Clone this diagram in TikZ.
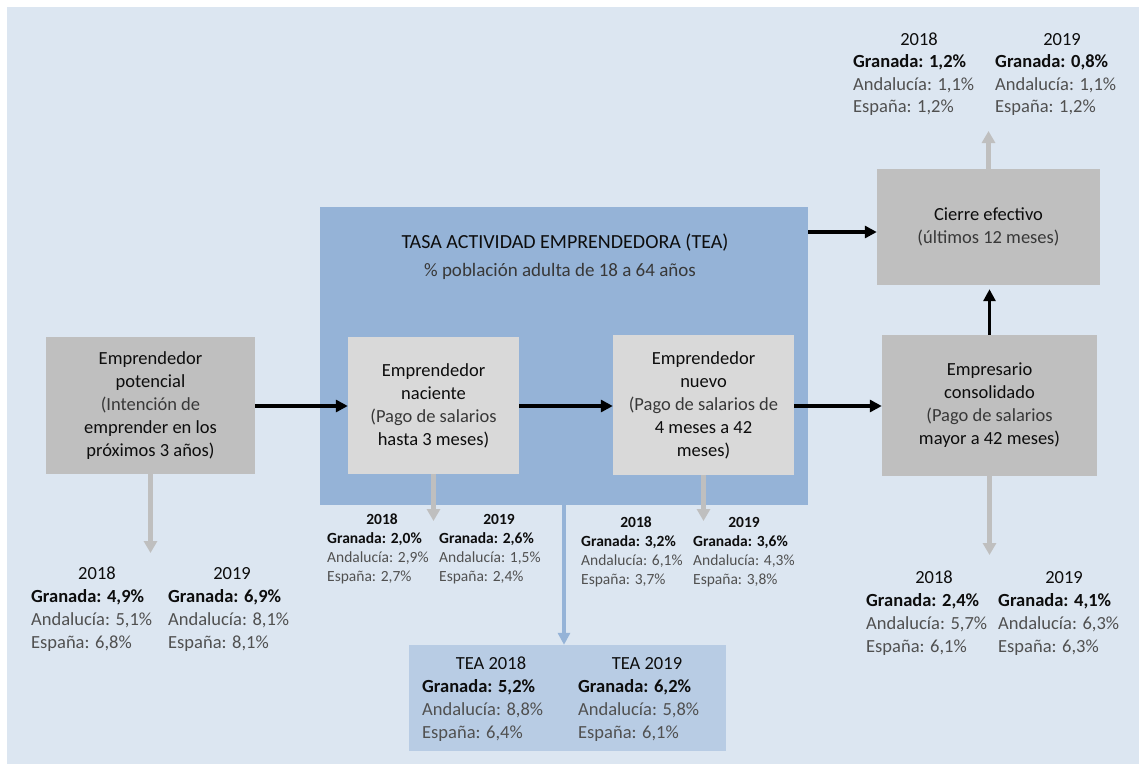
\documentclass[tikz,border=0pt]{standalone}
\usepackage{fontspec}
\setmainfont{Carlito}
\usetikzlibrary{arrows.meta}
\definecolor{bgblue}{HTML}{DCE6F1}
\definecolor{teablue}{HTML}{95B3D7}
\definecolor{resblue}{HTML}{B8CCE4}
\definecolor{boxgray}{HTML}{BFBFBF}
\definecolor{innergray}{HTML}{D9D9D9}
\definecolor{txtgray}{HTML}{505050}
\definecolor{partxt}{HTML}{383838}
\definecolor{txtblack}{HTML}{0D0D0D}

\newcommand\bigsz{\fontsize{18.5}{23}\selectfont}
\newcommand\smlsz{\fontsize{15.5}{19}\selectfont}
\newcommand\dsz{\bigsz}
\newcommand\dyrw{}

% #1 prefix, #2 year centre x, #3 year baseline, #4 year text, #5 left x, #6 step, #7 Granada, #8 Andalucia, #9 Espana
\newcommand\dcol[9]{%
  \node[dyear] (#1yr) at (#2,#3) {#4};
  \node[dgran] (#1g) at (#5,#3+#6) {#7};
  \node[dreg] (#1a) at (#5,#3+2*#6) {#8};
  \node[dreg] (#1e) at (#5,#3+3*#6) {#9};
}

\begin{document}
\begin{tikzpicture}[x=1pt,y=-1pt,
  gbox/.style={fill=boxgray, draw=none, inner sep=0pt, align=center, text=txtblack, font=\bigsz},
  ibox/.style={fill=innergray, draw=none, inner sep=0pt, align=center, text=txtblack, font=\bigsz},
  dyear/.style={inner sep=0pt, anchor=base, font=\dsz\dyrw, text=txtblack},
  dgran/.style={inner sep=0pt, anchor=base west, font=\dsz\bfseries, text=txtblack},
  dreg/.style={inner sep=0pt, anchor=base west, font=\dsz, text=txtgray},
  blkarrow/.style={draw=black, line width=3.6pt, -{Triangle[length=12pt,width=12pt]}},
  garrow/.style={draw=boxgray, line width=4.2pt, -{Triangle[length=12pt,width=13pt]}},
  barrow/.style={draw=teablue, line width=4pt, -{Triangle[length=12pt,width=12pt]}}]

\useasboundingbox (0,0) rectangle (1139,764);
\fill[white] (0,0) rectangle (1139,764);
\fill[bgblue] (7,7) rectangle (1139,764);

% TEA frame
\node[fill=teablue, draw=none, inner sep=0pt, minimum width=488pt, minimum height=298pt] (tea) at (564,356) {};
\node[inner sep=0pt, font=\fontsize{20}{24}\selectfont, text=txtblack] (teatitle) at (565,243) {TASA ACTIVIDAD EMPRENDEDORA (TEA)};
\node[inner sep=0pt, font=\fontsize{19}{23}\selectfont, text=partxt] (teasub) at (560,271) {\% población adulta de 18 a 64 años};

% boxes
\node[gbox, minimum width=209pt, minimum height=137pt] (pot) at (150.5,405.5)
  {Emprendedor\\potencial\\\color{partxt}(Intención de\\emprender en los\\próximos 3 años)};
\node[ibox, minimum width=171pt, minimum height=137pt] (nac) at (433.5,405.5)
  {Emprendedor\\naciente\\\color{partxt}(Pago de salarios\\hasta 3 meses)};
\node[ibox, minimum width=181pt, minimum height=140pt] (nue) at (703.5,405)
  {Emprendedor\\nuevo\\\color{partxt}(Pago de salarios de\\4 meses a 42\\meses)};
\node[gbox, minimum width=215pt, minimum height=141pt] (con) at (989.5,405.5)
  {Empresario\\consolidado\\\color{partxt}(Pago de salarios\\mayor a 42 meses)};
\node[gbox, minimum width=223pt, minimum height=116pt] (cie) at (988.5,227)
  {Cierre efectivo\\\color{partxt}(últimos 12 meses)};
\node[fill=resblue, draw=none, inner sep=0pt, minimum width=317pt, minimum height=106pt] (res) at (567.5,698) {};

% helper levels
\coordinate (rowy) at (0,406);
\coordinate (topy) at (0,232);
\coordinate (ypot) at (0,553);
\coordinate (ysml) at (0,521);
\coordinate (ycon) at (0,555);
\coordinate (ycie) at (0,131);

% black flow arrows
\draw[blkarrow] (pot.east |- rowy) -- (nac.west |- rowy);
\draw[blkarrow] (nac.east |- rowy) -- (nue.west |- rowy);
\draw[blkarrow] (nue.east |- rowy) -- (con.west |- rowy);
\draw[blkarrow] (tea.east |- topy) -- (cie.west |- topy);
\draw[blkarrow, shorten >=4pt] (con.north) -- (con.north |- cie.south);

% grey data arrows
\draw[garrow] (pot.south) -- (pot.south |- ypot);
\draw[garrow] (nac.south) -- (nac.south |- ysml);
\draw[garrow] (nue.south) -- (nue.south |- ysml);
\draw[garrow] (con.south) -- (con.south |- ycon);
\draw[garrow] (cie.north) -- (cie.north |- ycie);
\draw[barrow] (tea.south) -- (tea.south |- res.north);

% data, large
\dcol{p18}{97}{579}{2018}{31}{23.3}{Granada: 4,9\%}{Andalucía: 5,1\%}{España: 6,8\%}
\dcol{p19}{232}{579}{2019}{168}{23.3}{Granada: 6,9\%}{Andalucía: 8,1\%}{España: 8,1\%}
\dcol{c18}{934}{583}{2018}{866}{23.3}{Granada: 2,4\%}{Andalucía: 5,7\%}{España: 6,1\%}
\dcol{c19}{1064}{583}{2019}{998}{23.3}{Granada: 4,1\%}{Andalucía: 6,3\%}{España: 6,3\%}
\dcol{x18}{919}{45}{2018}{853}{22.5}{Granada: 1,2\%}{Andalucía: 1,1\%}{España: 1,2\%}
\dcol{x19}{1062}{45}{2019}{995}{22.5}{Granada: 0,8\%}{Andalucía: 1,1\%}{España: 1,2\%}
\dcol{t18}{491}{669}{TEA 2018}{422}{23.3}{Granada: 5,2\%}{Andalucía: 8,8\%}{España: 6,4\%}
\dcol{t19}{647}{669}{TEA 2019}{578}{23.3}{Granada: 6,2\%}{Andalucía: 5,8\%}{España: 6,1\%}

% data, small
\begin{scope}
\renewcommand\dsz{\smlsz}
\renewcommand\dyrw{\bfseries}
\dcol{n18}{382}{524}{2018}{327}{19}{Granada: 2,0\%}{Andalucía: 2,9\%}{España: 2,7\%}
\dcol{n19}{499}{524}{2019}{439}{19}{Granada: 2,6\%}{Andalucía: 1,5\%}{España: 2,4\%}
\dcol{u18}{636}{527}{2018}{581}{19}{Granada: 3,2\%}{Andalucía: 6,1\%}{España: 3,7\%}
\dcol{u19}{744}{527}{2019}{693}{19}{Granada: 3,6\%}{Andalucía: 4,3\%}{España: 3,8\%}
\end{scope}

\end{tikzpicture}
\end{document}
